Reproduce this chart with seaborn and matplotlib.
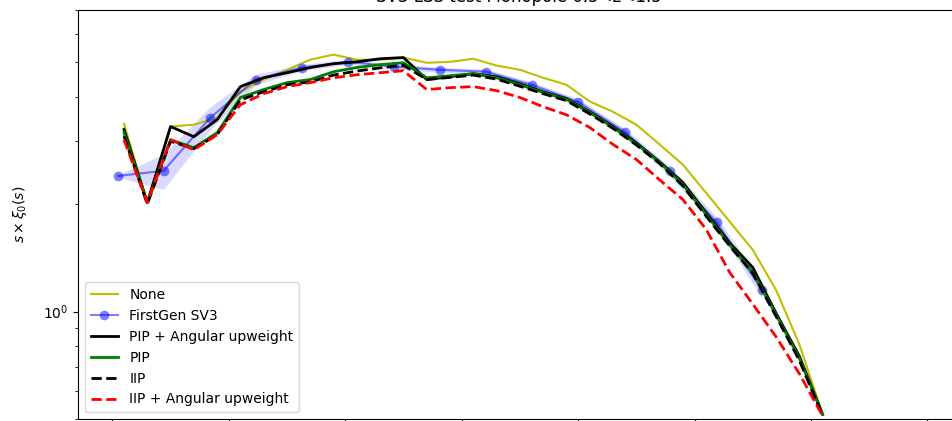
import matplotlib
matplotlib.use("Agg")
import matplotlib.pyplot as plt
import seaborn as sns
import numpy as np

# separation bins (arbitrary units; x axis is cropped out in the reference)
s = [1, 3, 5, 7, 9, 11, 13, 15, 17, 19, 21, 23, 25, 27, 29, 31,
     33, 35, 37, 39, 41, 43, 45, 47, 49, 51, 53, 55, 57, 59, 61]

none_w = [3.36, 2.02, 3.30, 3.34, 3.49, 4.13, 4.47, 4.76, 5.08, 5.25, 5.08,
          5.08, 5.15, 4.98, 5.01, 5.11, 4.89, 4.76, 4.52, 4.32, 3.88, 3.63,
          3.34, 2.94, 2.58, 2.15, 1.79, 1.49, 1.15, 0.81, 0.515]
pip_ang = [3.24, 2.02, 3.30, 3.09, 3.45, 4.27, 4.52, 4.67, 4.83, 4.95, 5.01,
           5.11, 5.15, 4.47, 4.55, 4.64, 4.55, 4.35, 4.13, 3.95, 3.63, 3.30,
           2.97, 2.63, 2.30, 1.89, 1.56, 1.33, 0.99, 0.75, 0.515]
pip = [3.17, 2.02, 3.03, 2.88, 3.17, 3.98, 4.19, 4.38, 4.47, 4.70, 4.83,
       4.92, 4.98, 4.52, 4.58, 4.64, 4.52, 4.32, 4.11, 3.93, 3.61, 3.28,
       2.95, 2.62, 2.27, 1.87, 1.54, 1.29, 0.98, 0.74, 0.515]
iip = [3.10, 2.00, 3.00, 2.86, 3.13, 3.92, 4.13, 4.32, 4.40, 4.60, 4.72,
       4.82, 4.90, 4.47, 4.53, 4.60, 4.48, 4.28, 4.08, 3.90, 3.58, 3.26,
       2.93, 2.60, 2.25, 1.85, 1.53, 1.28, 0.97, 0.73, 0.51]
iip_ang = [3.03, 2.02, 3.03, 2.84, 3.13, 3.80, 4.08, 4.27, 4.38, 4.52, 4.61,
           4.67, 4.73, 4.19, 4.24, 4.27, 4.16, 3.98, 3.75, 3.56, 3.28, 2.94,
           2.67, 2.34, 2.06, 1.70, 1.29, 1.05, 0.85, 0.67, 0.51]

s_fg = [0.5, 4.4, 8.4, 12.3, 16.3, 20.2, 24.2, 28.1, 32.1, 36.0, 40.0,
        44.0, 47.9, 51.9, 55.8]
firstgen = [2.40, 2.48, 3.49, 4.47, 4.83, 5.01, 4.86, 4.76, 4.70, 4.32,
            3.87, 3.19, 2.47, 1.78, 1.15]
firstgen_err = [0.02, 0.28, 0.26, 0.15, 0.10, 0.08, 0.08, 0.08, 0.08,
                0.08, 0.08, 0.07, 0.07, 0.06, 0.06]

title = "SV3 LSS test Monopole 0.5<z<1.5"

fig = plt.figure(figsize=(9.53, 4.21), dpi=100)
ax = fig.add_axes([78 / 953, 2 / 421, (960 - 78) / 953, 409 / 421])

sns.lineplot(x=s, y=none_w, ax=ax, color="y", lw=1.5, label="None", sort=False)
sns.lineplot(x=s_fg, y=firstgen, ax=ax, color="blue", alpha=0.5, lw=1.5,
             marker="o", markersize=7, markeredgewidth=0,
             label="FirstGen SV3", sort=False)
lo = [v - e for v, e in zip(firstgen, firstgen_err)]
hi = [v + e for v, e in zip(firstgen, firstgen_err)]
ax.fill_between(s_fg, lo, hi, color="blue", alpha=0.15, lw=0)
sns.lineplot(x=s, y=pip_ang, ax=ax, color="k", lw=2,
             label="PIP + Angular upweight", sort=False)
sns.lineplot(x=s, y=pip, ax=ax, color="g", lw=2, label="PIP", sort=False)
sns.lineplot(x=s, y=iip, ax=ax, color="k", lw=2, linestyle="--",
             label="IIP", sort=False)
sns.lineplot(x=s, y=iip_ang, ax=ax, color="r", lw=2, linestyle="--",
             label="IIP + Angular upweight", sort=False)

ax.set_yscale("log")
ax.set_ylim(0.5, 7)
ax.set_xlim(-2.95, 72.8)
ax.set_ylabel(r"$s \times \xi_0(s)$", fontsize=10)
ax.yaxis.set_label_coords(-0.055, 0.5)
ax.set_xlabel("")
ax.tick_params(axis="x", labelbottom=False)
ax.set_title(title, fontsize=12, pad=5.5)
ax.legend(loc="lower left", fontsize=10)

fig.savefig("out.png", dpi=100)
